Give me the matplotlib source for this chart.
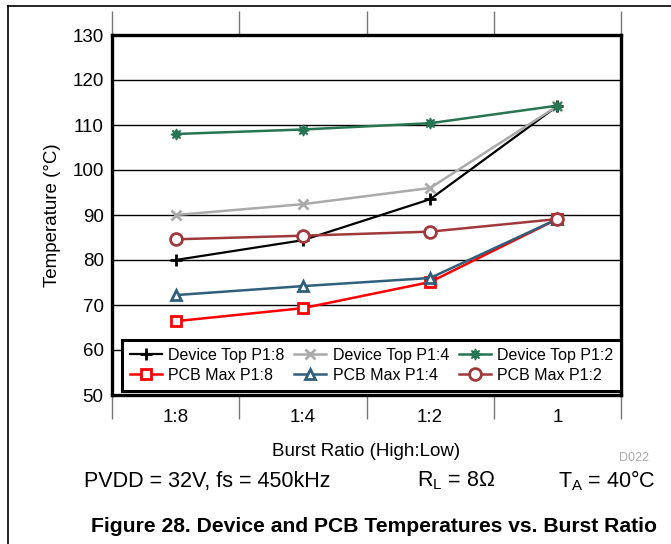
import matplotlib.pyplot as plt
import numpy as np
from matplotlib.lines import Line2D

plt.rcParams['font.family'] = ['Liberation Sans', 'DejaVu Sans']

ratios = ['1:8', '1:4', '1:2', '1']
dev_p18 = [80.0, 84.4, 93.5, 114.2]
dev_p14 = [90.0, 92.4, 96.0, 114.2]
dev_p12 = [108.0, 109.0, 110.4, 114.3]
pcb_p18 = [66.4, 69.3, 75.1, 89.1]
pcb_p14 = [72.2, 74.2, 76.0, 89.1]
pcb_p12 = [84.6, 85.4, 86.3, 89.1]

fig = plt.figure(figsize=(6.71, 5.44), dpi=100)
ax = fig.add_axes([112/671, 149/544, 509/671, 360/544])

x = np.arange(len(ratios))
l1, = ax.plot(x, dev_p18, color='black', marker='+', ms=9, mew=2, lw=1.6, label='Device Top P1:8')
l2, = ax.plot(x, dev_p14, color='#aaaaaa', marker='x', ms=7, mew=2, lw=1.8, label='Device Top P1:4')
l3, = ax.plot(x, dev_p12, color='#277553', marker=(8, 1, 0), ms=8, lw=1.8, label='Device Top P1:2')
l4, = ax.plot(x, pcb_p18, color='#ff0000', marker='s', ms=7.5, mfc='white', mew=2, lw=1.8, label='PCB Max P1:8')
l5, = ax.plot(x, pcb_p14, color='#2f5f7a', marker='^', ms=7.5, mfc='white', mew=2, lw=1.8, label='PCB Max P1:4')
l6, = ax.plot(x, pcb_p12, color='#a0393b', marker='o', ms=8.5, mfc='white', mew=2, lw=1.8, label='PCB Max P1:2')

ax.set_xlim(-0.5, 3.5)
ax.set_ylim(50, 130)
ax.set_yticks(np.arange(50, 131, 10))
ax.yaxis.grid(True, color='black', lw=1)
ax.set_axisbelow(True)
ax.tick_params(axis='y', length=0, labelsize=13.5, pad=6)

ax.set_xticks(x)
ax.set_xticklabels(ratios)
ax.set_xticks(np.arange(-0.5, 3.6, 1), minor=True)
ax.tick_params(axis='x', which='major', length=0, labelsize=13.5, pad=10)
ax.tick_params(axis='x', which='minor', length=17, width=1, color='#777777',
               direction='out', top=True, bottom=True)

for s in ax.spines.values():
    s.set_linewidth(2.4)

ax.set_ylabel('Temperature (°C)', fontsize=13.5, labelpad=8)
ax.set_xlabel('Burst Ratio (High:Low)', fontsize=13.5, labelpad=12)

# legend fills column-wise, so interleave to get Device row over PCB row
handles = [l1, l4, l2, l5, l3, l6]
leg = ax.legend(handles=handles, labels=[h.get_label() for h in handles],
                ncol=3, loc='lower left', bbox_to_anchor=(0.02, 0.012, 0.98, 0.14),
                mode='expand', fontsize=11.5, frameon=True, fancybox=False,
                handlelength=2.0, handletextpad=0.4, columnspacing=0.5,
                labelspacing=0.3, borderaxespad=0, borderpad=0.5)
leg.get_frame().set_edgecolor('black')
leg.get_frame().set_linewidth(2.2)
leg.get_frame().set_alpha(1)

fig.text(634/671, 1 - 458/544, 'D022', fontsize=9, color='#aaaaaa', ha='center', va='center')
fig.text(84/671, 1 - 481/544, 'PVDD = 32V, fs = 450kHz', fontsize=15.5, ha='left', va='center')
fig.text(417/671, 1 - 481/544, r'R$_\mathregular{L}$ = 8Ω', fontsize=15.5, ha='left', va='center')
fig.text(558/671, 1 - 481/544, r'T$_\mathregular{A}$ = 40°C', fontsize=15.5, ha='left', va='center')
fig.text(374/671, 1 - 527/544, 'Figure 28. Device and PCB Temperatures vs. Burst Ratio',
         fontsize=15.2, fontweight='bold', ha='center', va='center')

fig.add_artist(Line2D([8/671, 8/671], [0, 1 - 6/544], color='black', lw=1.2))
fig.add_artist(Line2D([8/671, 1], [1 - 6/544, 1 - 6/544], color='black', lw=1.2))

fig.savefig('out.png', dpi=100)
